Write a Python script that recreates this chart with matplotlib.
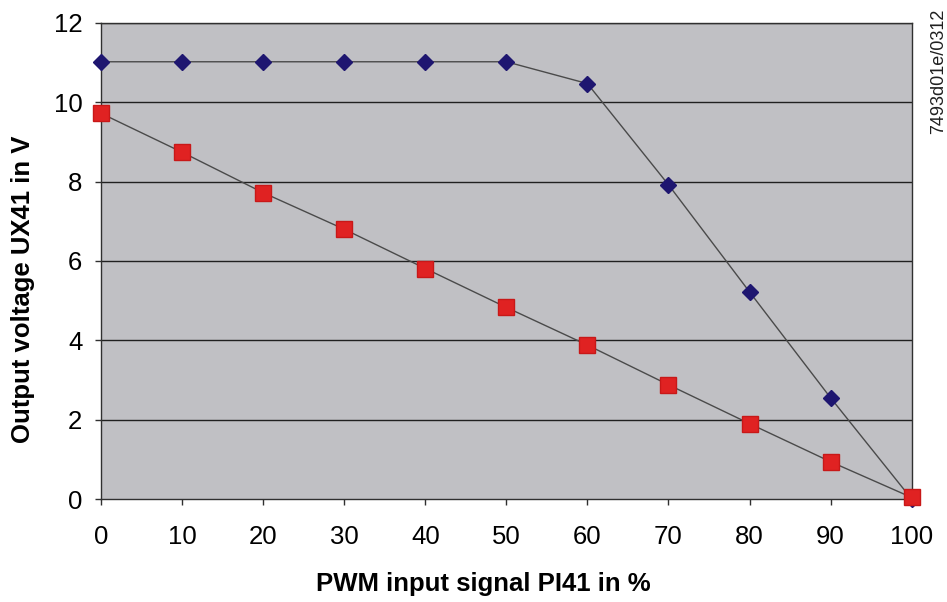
import matplotlib.pyplot as plt

plt.rcParams['font.family'] = ['Liberation Sans', 'DejaVu Sans']

pwm = [0, 10, 20, 30, 40, 50, 60, 70, 80, 90, 100]
curve_a = [11.02, 11.02, 11.02, 11.02, 11.02, 11.02, 10.47, 7.92, 5.22, 2.55, 0.0]
curve_b = [9.72, 8.74, 7.72, 6.8, 5.81, 4.83, 3.88, 2.88, 1.9, 0.94, 0.04]

xticks = [0, 10, 20, 30, 40, 50, 60, 70, 80, 90, 100]
yticks = [0, 2, 4, 6, 8, 10, 12]


def main():
    fig = plt.figure(figsize=(9.47, 6.02), dpi=100)
    ax = fig.add_axes([0.1067, 0.171, 0.856, 0.791])
    ax.set_facecolor('#c0c0c4')

    for y in yticks[1:]:
        ax.axhline(y, color='#202020', lw=1.0, zorder=1)

    ax.plot(pwm, curve_a, color='#4a4a4a', lw=1.0, marker='D', ms=8,
            mfc='#1e1670', mec='#1e1670', zorder=3, clip_on=False)
    ax.plot(pwm, curve_b, color='#4a4a4a', lw=1.0, marker='s', ms=11,
            mfc='#e02222', mec='#c81818', zorder=4, clip_on=False)

    ax.set_xlim(0, 100)
    ax.set_ylim(0, 12)
    ax.set_xticks(xticks)
    ax.set_yticks(yticks)
    ax.tick_params(direction='out', length=4.5, width=1, color='#303030',
                   labelsize=18.5)
    ax.tick_params(axis='x', pad=14)
    ax.tick_params(axis='y', pad=9)

    for s in ax.spines.values():
        s.set_color('#303030')
        s.set_linewidth(1.0)

    ax.set_xlabel('PWM input signal PI41 in %', fontsize=18.5, fontweight='bold',
                  labelpad=17)
    ax.set_ylabel('Output voltage UX41 in V', fontsize=18.5, fontweight='bold',
                  labelpad=13)
    # labels in the original sit a little off the axes centre
    ax.xaxis.label.set_x(0.471)
    ax.yaxis.label.set_y(0.44)

    fig.text(0.991, 0.985, '7493d01e/0312', rotation=90, fontsize=13,
             ha='center', va='top', color='#202020')

    fig.savefig('out.png', dpi=100)


main()
